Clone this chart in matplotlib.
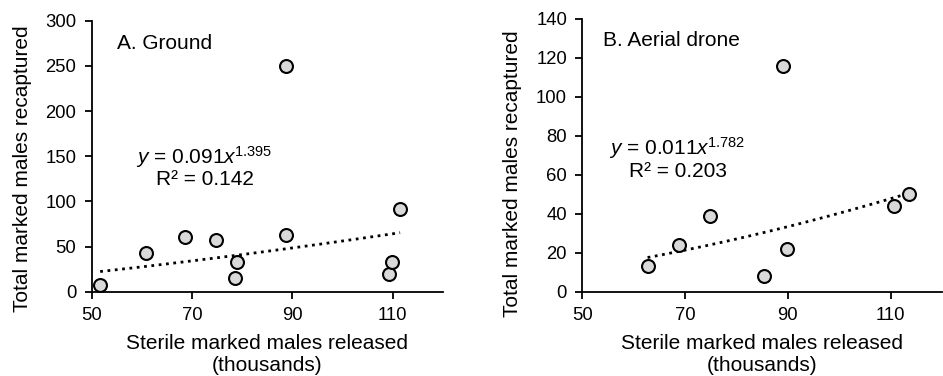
import numpy as np
import matplotlib
matplotlib.use("Agg")
import matplotlib.pyplot as plt

plt.rcParams['font.family'] = ['Liberation Sans', 'DejaVu Sans']
plt.rcParams['mathtext.fontset'] = 'custom'
plt.rcParams['mathtext.rm'] = 'Liberation Sans'
plt.rcParams['mathtext.it'] = 'Liberation Sans:italic'

# panel A: ground release
ground_x = [51.7, 60.9, 68.7, 74.7, 78.5, 79.0, 88.7, 88.8, 109.2, 109.8, 111.5]
ground_y = [7, 43, 60, 57, 15, 33, 63, 250, 20, 33, 92]
ground_fit = (0.091, 1.395)
ground_r2 = "0.142"

# panel B: aerial drone release
drone_x = [62.7, 68.8, 74.9, 85.4, 89.0, 89.8, 110.7, 113.6]
drone_y = [13, 24, 39, 8, 116, 22, 44, 50]
drone_fit = (0.011, 1.782)
drone_r2 = "0.203"

x_ticks = [50, 70, 90, 110]
ground_yticks = [0, 50, 100, 150, 200, 250, 300]
drone_yticks = [0, 20, 40, 60, 80, 100, 120, 140]

TICK_FS = 13.3
FS = 15


def draw_panel(ax, xs, ys, fit, r2, yticks, title, title_xy, eq_xy, r2_xy,
               ylab_xy):
    a, b = fit
    xx = np.linspace(min(xs), max(xs), 100)
    ax.plot(xx, a * xx ** b, ls=':', color='black', lw=2, zorder=1)
    ax.plot(xs, ys, 'o', ms=9.3, mfc='#d9d9d9', mec='black', mew=1.5,
            zorder=2, clip_on=False)
    ax.set_xlim(50, 120)
    ax.set_ylim(0, yticks[-1])
    ax.set_xticks(x_ticks)
    ax.set_yticks(yticks)
    for s in ['top', 'right']:
        ax.spines[s].set_visible(False)
    for s in ['left', 'bottom']:
        ax.spines[s].set_linewidth(1.3)
    ax.tick_params(direction='out', length=5, width=1.3, labelsize=TICK_FS, pad=6)
    ax.set_xlabel('Sterile marked males released\n(thousands)', fontsize=FS,
                  labelpad=7, linespacing=1.2)
    ax.set_ylabel('Total marked males recaptured', fontsize=FS)
    ax.yaxis.set_label_coords(*ylab_xy)
    ax.text(title_xy[0], title_xy[1], title, fontsize=FS, va='center', ha='left')
    ax.text(eq_xy[0], eq_xy[1],
            r'$\it{y}$ = %.3f$\it{x}$$^{%.3f}$' % (a, b),
            fontsize=FS, ha='center', va='center')
    ax.text(r2_xy[0], r2_xy[1], 'R² = ' + r2, fontsize=FS,
            ha='center', va='center')


fig = plt.figure(figsize=(9.43, 3.76), dpi=100)
ax1 = fig.add_axes([0.0972, 0.2242, 0.3723, 0.7208])
ax2 = fig.add_axes([0.6175, 0.2242, 0.3815, 0.7253])

draw_panel(ax1, ground_x, ground_y, ground_fit, ground_r2, ground_yticks,
           'A. Ground', (55, 275), (72.5, 149.5), (72.5, 123.7),
           (-0.17, 0.453))
draw_panel(ax2, drone_x, drone_y, drone_fit, drone_r2, drone_yticks,
           'B. Aerial drone', (54.1, 128.8), (68.5, 73.6), (68.7, 61.6),
           (-0.168, 0.432))

fig.savefig('out.png', dpi=100)
